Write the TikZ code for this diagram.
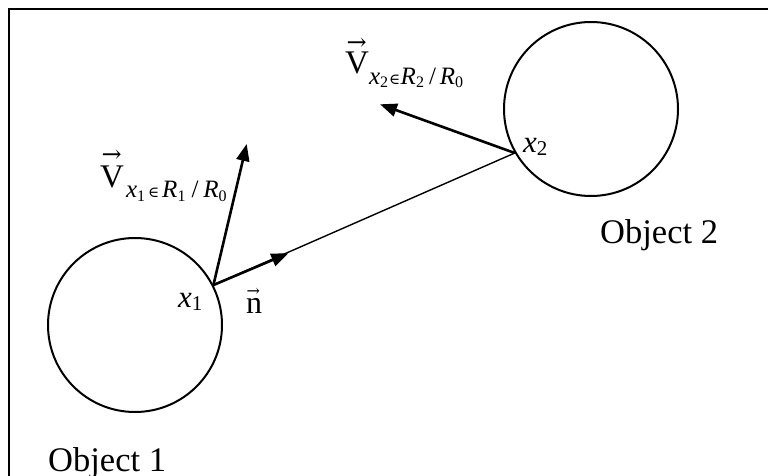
\documentclass[tikz,border=0pt]{standalone}
\usepackage{fontspec}
\setmainfont{Liberation Serif}
\newfontfamily\symfont{DejaVu Serif}
\usetikzlibrary{arrows.meta}
\newcommand\fsz[1]{\fontsize{#1}{#1}\selectfont}
% arrow accent: #1 arrow size, #2 raise, #3 kern, #4 letter
\newcommand\accarrow[4]{\rlap{\kern#3\raisebox{#2}{\fsz{#1}\symfont →}}#4}
\newcommand\lowidx[3]{\raisebox{-#1}{\fsz{#2}#3}}
\begin{document}
\begin{tikzpicture}[x=1pt,y=-1pt,
  object/.style={circle, draw, line width=2pt, inner sep=0pt, minimum size=174pt},
  vecarrow/.style={line width=2.6pt, -{Triangle[length=17pt,width=13pt]}},
  joinline/.style={line width=1.4pt},
  frameline/.style={line width=2.6pt},
  lab/.style={anchor=base west, inner sep=0pt},
  bigtext/.style={lab, font=\fsz{34.5}}
]
\useasboundingbox (0,0) rectangle (768,476);
% frame (top and left edges)
\draw[frameline] (9,480) -- (9,9) -- (772,9);
% objects
\node[object] (obj1) at (135,325) {};
\node[object] (obj2) at (591,109) {};
\coordinate (x1) at (obj1.27);
\coordinate (x2) at (obj2.210);
\coordinate (ntip) at (288.3,253.3);
\coordinate (v1tip) at (246.7,144);
\coordinate (v2tip) at (380,104.3);
% connectors
\draw[joinline] (x1) -- (x2);
\draw[vecarrow] (x1) -- (ntip);
\draw[vecarrow] (x1) -- (v1tip);
\draw[vecarrow] (x2) -- (v2tip);
% labels
\node[bigtext] (o1) at (48,471) {Object 1};
\node[bigtext] (o2) at (600,243.5) {Object 2};
\node[lab, font=\fsz{31}] (lx1) at (178,307) {\textit{x}\lowidx{3pt}{21}{1}};
\node[lab, font=\fsz{31}] (lx2) at (523,153) {\textit{x}\lowidx{3pt}{21}{2}};
\node[lab, font=\fsz{32}] (ln) at (246,313) {\accarrow{16}{16.5pt}{0.5pt}{n}};
\node[lab, font=\fsz{33}] (lv1) at (100,187)
  {\accarrow{24}{24.6pt}{1.5pt}{V}\kern2pt\raisebox{-10pt}{\fsz{25}\textit{x}\lowidx{4.5pt}{16}{1}\kern3pt{\symfont\fsz{15}∈}\kern3pt\textit{R}\lowidx{4.5pt}{16}{1}\kern6pt/\kern5pt\textit{R}\lowidx{4.5pt}{16}{0}}};
\node[lab, font=\fsz{33}] (lv2) at (345,74)
  {\accarrow{24}{23.3pt}{1.5pt}{V}\raisebox{-11pt}{\fsz{25}\textit{x}\lowidx{3pt}{16}{2}\kern1pt{\symfont\fsz{15}∈}\kern0.5pt\textit{R}\lowidx{3pt}{16}{2}\kern5pt/\kern4pt\textit{R}\lowidx{3pt}{16}{0}}};
\end{tikzpicture}
\end{document}
